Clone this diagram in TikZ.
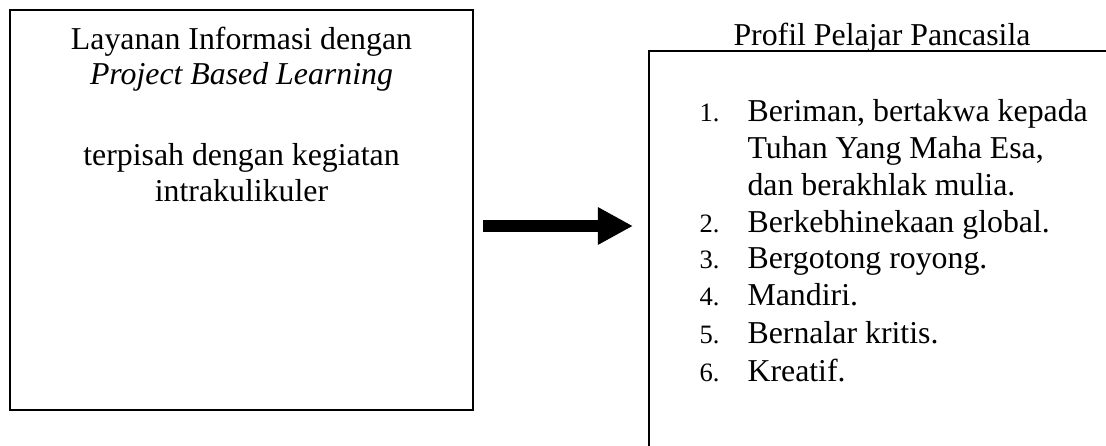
\documentclass[tikz,border=0pt]{standalone}
\usepackage{fontspec}
\setmainfont{Liberation Serif}
\usepackage{tikz}
\usetikzlibrary{arrows.meta}

\begin{document}
\begin{tikzpicture}[x=0.377pt, y=-0.377pt,
  panel/.style={draw, line width=0.75pt, inner sep=0pt},
  txt/.style={inner sep=0pt, font=\fontsize{12}{14}\selectfont},
  bigarrow/.style={line width=4.5pt, -{Triangle[length=13.2pt, width=13.2pt]}}]

\useasboundingbox (0,0) rectangle (1106,446);
\clip (0,0) rectangle (1106,446);

\node[panel, minimum width=174.6pt, minimum height=150.8pt] (leftbox) at (241.5,210) {};

\node[panel, minimum width=181.3pt, minimum height=158pt] (rightbox) at (889.5,260.5) {};

\node[txt, anchor=base] (lefta) at (241.5,50) {Layanan Informasi dengan};
\node[txt, anchor=base] (leftb) at (241.5,85) {\textit{Project Based Learning}};
\node[txt, anchor=base] (leftc) at (241.5,166) {terpisah dengan kegiatan};
\node[txt, anchor=base] (leftd) at (241.5,202) {intrakulikuler};

\node[txt, anchor=base] (title) at (882,46) {Profil Pelajar Pancasila};

\foreach \n/\y/\t in {1/122/{Beriman, bertakwa kepada}, 2/233/{Berkebhinekaan global.},
  3/269/{Bergotong royong.}, 4/306/{Mandiri.}, 5/344/{Bernalar kritis.}, 6/382/{Kreatif.}}
{
  \node[txt, anchor=base west, font=\fontsize{10}{12}\selectfont] (num\n) at (699,\y) {\n.};
  \node[txt, anchor=base west] (item\n) at (747,\y) {\t};
}
\node[txt, anchor=base west] (item1b) at (747,159) {Tuhan Yang Maha Esa,};
\node[txt, anchor=base west] (item1c) at (747,196) {dan berakhlak mulia.};

\coordinate (tail) at (483,226);
\coordinate (tip) at (633,226);
\draw[bigarrow] (tail) -- (tip);

\end{tikzpicture}
\end{document}
